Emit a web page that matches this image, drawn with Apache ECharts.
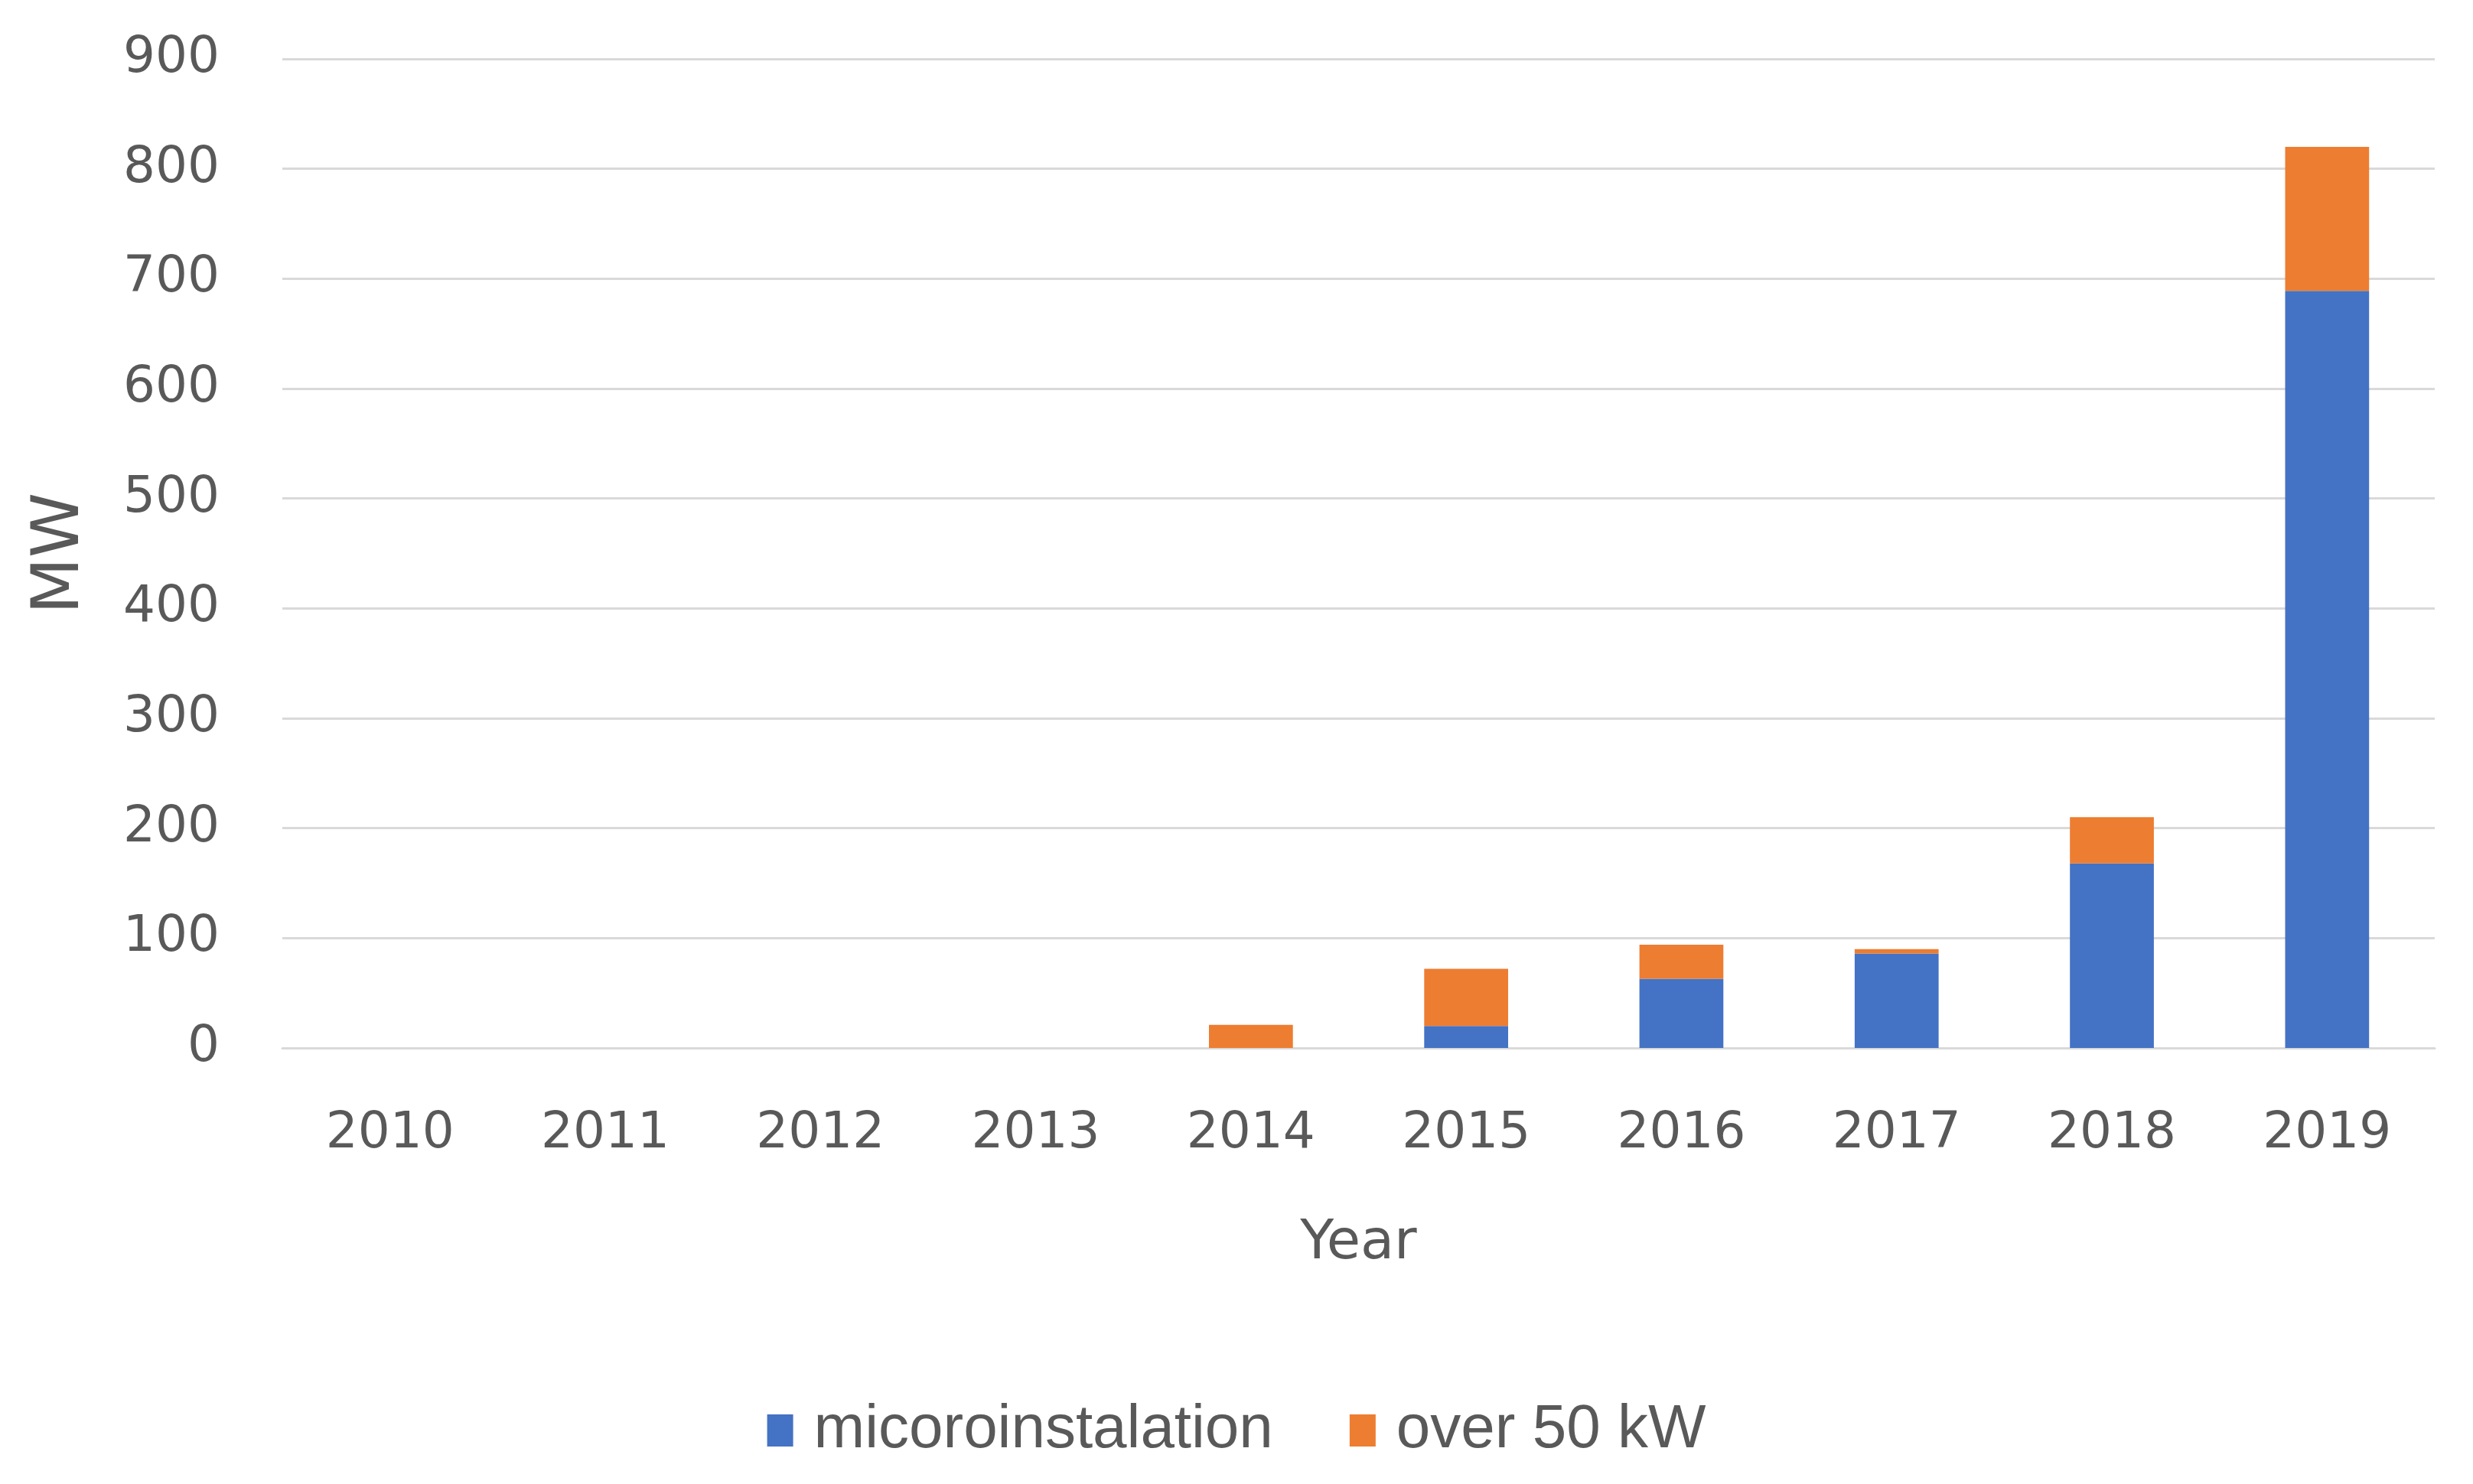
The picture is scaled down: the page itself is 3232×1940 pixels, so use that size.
<!DOCTYPE html>
<html>
<head>
<meta charset="utf-8">
<script src="https://cdn.jsdelivr.net/npm/echarts@6/dist/echarts.min.js"></script>
<style>
  html, body { margin: 0; padding: 0; background: #ffffff; }
  #chart { width: 3232px; height: 1940px; }
</style>
</head>
<body>
<div id="chart"></div>
<script>
const years = ['2010', '2011', '2012', '2013', '2014', '2015', '2016', '2017', '2018', '2019'];
const microinstallation = [0, 0, 0, 0, 0, 20, 63, 86, 168, 689];
const over50kW = [0, 0, 0, 0, 21, 52, 31, 4, 42, 131];
const yTicks = { min: 0, max: 900, interval: 100 };

const chart = echarts.init(document.getElementById('chart'), null, { renderer: 'canvas' });
const labelColor = '#595959';
chart.setOption({
  animation: false,
  backgroundColor: '#ffffff',
  color: ['#4472C4', '#ED7D31'],
  grid: { left: 369, right: 50, top: 77, bottom: 570, containLabel: false },
  legend: {
    data: ['micoroinstalation', 'over 50 kW'],
    left: 'center',
    top: 1825,
    icon: 'rect',
    itemWidth: 34,
    itemHeight: 42,
    itemGap: 100,
    textStyle: { color: labelColor, fontSize: 80, fontFamily: 'Liberation Sans', padding: [0, 0, 0, 22] }
  },
  xAxis: {
    type: 'category',
    data: years,
    name: 'Year',
    nameLocation: 'middle',
    nameGap: 220,
    nameTextStyle: { color: labelColor, fontSize: 72, fontFamily: 'DejaVu Sans' },
    axisLine: { show: true, lineStyle: { color: '#d9d9d9', width: 3 } },
    axisTick: { show: false },
    axisLabel: { color: labelColor, fontSize: 66, fontFamily: 'DejaVu Sans', margin: 80 }
  },
  yAxis: {
    type: 'value',
    min: yTicks.min,
    max: yTicks.max,
    interval: yTicks.interval,
    name: 'MW',
    nameLocation: 'middle',
    nameGap: 246,
    nameTextStyle: { color: labelColor, fontSize: 86, fontFamily: 'DejaVu Sans' },
    axisLine: { show: false },
    axisTick: { show: false },
    splitLine: { show: true, lineStyle: { color: '#d9d9d9', width: 3 } },
    axisLabel: { color: labelColor, fontSize: 66, fontFamily: 'DejaVu Sans', margin: 82 }
  },
  series: [
    { name: 'micoroinstalation', type: 'bar', stack: 'total', data: microinstallation, barCategoryGap: '61%' },
    { name: 'over 50 kW', type: 'bar', stack: 'total', data: over50kW, barCategoryGap: '61%' }
  ]
});
</script>
</body>
</html>
